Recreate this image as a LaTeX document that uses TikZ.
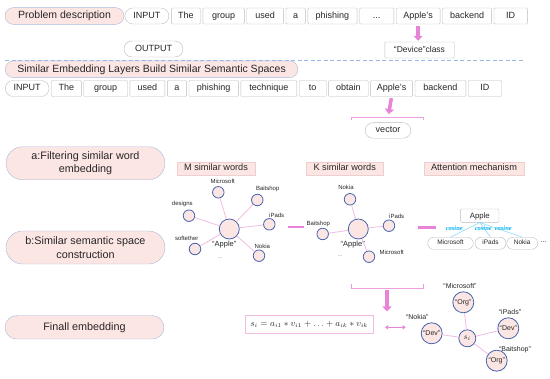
\documentclass[tikz,border=0pt]{standalone}
\usepackage{fontspec}
\setmainfont{Liberation Sans}
\newfontfamily\cosfont{Liberation Serif}
\usepackage{amsmath}
\usetikzlibrary{shapes.misc, arrows.meta, positioning, calc}

\definecolor{pinkfill}{RGB}{252,230,228}
\definecolor{pillblue}{RGB}{168,184,222}
\definecolor{wordgray}{RGB}{188,188,188}
\definecolor{circblue}{RGB}{70,100,172}
\definecolor{edgepink}{RGB}{240,188,226}
\definecolor{arrowpink}{RGB}{232,132,216}
\definecolor{dashblue}{RGB}{150,186,226}
\definecolor{cosblue}{RGB}{0,176,240}
\definecolor{tagpink}{RGB}{238,206,206}

\begin{document}
\begin{tikzpicture}[
    x=1pt, y=-1pt,
    every node/.style={inner sep=0pt, text=black!85},
    descpill/.style={rounded rectangle, draw=pillblue, fill=pinkfill, text height=7.5pt,
                     text depth=2pt, minimum height=16.7pt, font=\fontsize{10.5}{12}\selectfont},
    stagepill/.style={rounded rectangle, draw=pillblue, fill=pinkfill, minimum width=159pt,
                      minimum height=33pt, align=center, font=\fontsize{10.8}{13.3}\selectfont},
    tagpill/.style={rounded rectangle, draw=wordgray, fill=white, text height=6.5pt,
                    text depth=1.8pt, minimum height=16pt, font=\fontsize{9}{10}\selectfont},
    wordbox/.style={rectangle, draw=wordgray, fill=white, rounded corners=1pt, text height=6.5pt,
                    text depth=1.8pt, minimum height=16pt, font=\fontsize{9}{10}\selectfont},
    headbox/.style={rectangle, draw=tagpink, fill=pinkfill, minimum height=13pt,
                    text height=6.6pt, text depth=1.8pt, font=\fontsize{9.2}{10}\selectfont},
    bigword/.style={circle, draw=circblue, line width=0.8pt, fill=pinkfill, minimum size=20pt},
    smallword/.style={circle, draw=circblue, line width=0.8pt, fill=pinkfill, minimum size=11.5pt},
    typenode/.style={circle, draw=circblue, line width=0.8pt, fill=pinkfill, minimum size=21pt,
                     font=\fontsize{7}{8}\selectfont},
    wlabel/.style={font=\fontsize{6}{7}\selectfont},
    tlabel/.style={font=\fontsize{7}{8}\selectfont},
    edge/.style={draw=edgepink, line width=0.8pt},
    blockarrow/.style={draw=arrowpink, line width=3.5pt, -{Triangle[width=9pt,length=5pt]}},
    bar/.style={draw=arrowpink, line width=2.5pt},
    dblarrow/.style={draw=arrowpink, line width=1.2pt,
                     {Triangle[width=4pt,length=3pt]}-{Triangle[width=4pt,length=3pt]}},
    bracket/.style={draw=arrowpink!80, line width=0.7pt},
    cosedge/.style={draw=cosblue!45, line width=0.6pt},
    cosine/.style={font=\cosfont\bfseries\itshape\fontsize{6.5}{7}\selectfont, text=cosblue},
    sepline/.style={draw=dashblue, line width=0.8pt, dash pattern=on 4pt off 2.5pt}
]
\useasboundingbox (0,0) rectangle (550,379);

% problem description row
\node (prob)   [descpill, minimum width=119pt] at (64.5,16) {Problem description};
\node (in1)    [tagpill, minimum width=44pt, right=0.5pt of prob]   {INPUT};
\node (the1)   [wordbox, minimum width=29.2pt, right=2pt of in1]    {The};
\node (grp1)   [wordbox, minimum width=41.4pt, right=2pt of the1]   {group};
\node (used1)  [wordbox, minimum width=36.9pt, right=2pt of grp1]   {used};
\node (a1)     [wordbox, minimum width=19.4pt, right=2pt of used1]  {a};
\node (phish1) [wordbox, minimum width=49.3pt, right=2pt of a1]     {phishing};
\node (dots1)  [wordbox, minimum width=34.3pt, right=2pt of phish1] {...};
\node (ap1)    [wordbox, minimum width=43.9pt, right=2pt of dots1]  {Apple's};
\node (back1)  [wordbox, minimum width=49.1pt, right=2pt of ap1]    {backend};
\node (id1)    [wordbox, minimum width=33.3pt, right=2pt of back1]  {ID};

\node (out) [tagpill, minimum width=59pt] at (153.5,49) {OUTPUT};
\node (dev) [wordbox, minimum width=69.4pt, font=\fontsize{8.5}{9}\selectfont] at (419.5,50)
    {“Device”class};
\draw [blockarrow, shorten <=2pt, shorten >=1pt] (ap1.south) -- (ap1.south |- dev.north);

% separator
\coordinate (sepl) at (5,60);
\coordinate (sepr) at (523,60);

% similar embedding row
\node (simemb) [descpill, minimum width=292.7pt] at (151.6,69.3)
    {Similar Embedding Layers Build Similar Semantic Spaces};
\draw [sepline] (sepl) -- (sepr);
\node (in2)    [tagpill, minimum width=43.8pt] at (27.2,88.5)        {INPUT};
\node (the2)   [wordbox, minimum width=29.8pt, right=2pt of in2]    {The};
\node (grp2)   [wordbox, minimum width=43.8pt, right=2pt of the2]   {group};
\node (used2)  [wordbox, minimum width=35pt,   right=2pt of grp2]   {used};
\node (a2)     [wordbox, minimum width=19.3pt, right=2pt of used2]  {a};
\node (phish2) [wordbox, minimum width=49.4pt, right=2pt of a2]     {phishing};
\node (tech2)  [wordbox, minimum width=56pt,   right=2pt of phish2] {technique};
\node (to2)    [wordbox, minimum width=27pt,   right=2pt of tech2]  {to};
\node (obt2)   [wordbox, minimum width=39.6pt, right=2pt of to2]    {obtain};
\node (ap2)    [wordbox, minimum width=42pt,   right=2pt of obt2]   {Apple's};
\node (back2)  [wordbox, minimum width=50.8pt, right=2pt of ap2]    {backend};
\node (id2)    [wordbox, minimum width=33.3pt, right=2pt of back2]  {ID};

\coordinate (brl)   at (351.5,120.5);
\coordinate (brtop) at (388,117.5);
\coordinate (brr)   at (423.5,120.5);
\draw [bracket] (brl) |- (brtop) -| (brr);
\draw [blockarrow, shorten <=1.5pt, shorten >=3.5pt] (ap2.south) -- (brtop);
\node (vec) [tagpill, minimum width=45.7pt, minimum height=15.6pt] at (388,130.5) {vector};

% stages
\node (filt)  [stagepill] at (85.5,163.3) {a:Filtering similar word\\embedding};
\node (simsp) [stagepill] at (85.5,247.5) {b:Similar semantic space\\construction};
\node (final) [stagepill, minimum height=23.5pt] at (84.5,327.3) {Finall embedding};

\node (mhead) [headbox, minimum width=78pt]   at (216,168.3)   {M similar words};
\node (khead) [headbox, minimum width=77.3pt] at (344.7,168.3) {K similar words};
\node (ahead) [headbox, minimum width=100pt]  at (474,168.3)   {Attention mechanism};

% M similar words
\node (mapple) [bigword]   at (229.3,229)   {};
\node (mms)    [smallword] at (218.3,192.3) {};
\node (mbs)    [smallword] at (257.3,200)   {};
\node (mdes)   [smallword] at (189,215.7)   {};
\node (mip)    [smallword] at (269.3,224.3) {};
\node (msoft)  [smallword] at (195,249)     {};
\node (mnok)   [smallword] at (259,255.7)   {};
\node (mmsl)   [wlabel] at (222.7,181.7) {Microsoft};
\node (mbsl)   [wlabel] at (267.7,189.3) {Baitshop};
\node (mdesl)  [wlabel] at (182.3,203.7) {designs};
\node (mipl)   [wlabel] at (276.7,215)   {iPads};
\node (msoftl) [wlabel] at (186.7,238.7) {softether};
\node (mnokl)  [wlabel] at (262.3,246)   {Nokia};
\node (mapl)   [font=\fontsize{7.5}{8}\selectfont] at (224.3,245) {“Apple”};
\node (mdots)  [wlabel, text=black!50] at (220,258) {...};
\draw [edge] (mapple) -- (mms);
\draw [edge] (mapple) -- (mbs);
\draw [edge] (mapple) -- (mdes);
\draw [edge] (mapple) -- (mip);
\draw [edge] (mapple) -- (msoft);
\draw [edge] (mapple) -- (mnok);

\coordinate (mkl) at (287.5,227);
\coordinate (mkr) at (304,227);
\draw [bar] (mkl) -- (mkr);

% K similar words
\node (kapple) [bigword]   at (358.3,229)   {};
\node (knok)   [smallword] at (350,199.3)   {};
\node (kip)    [smallword] at (389,225.7)   {};
\node (kbs)    [smallword] at (322.7,234)   {};
\node (kms)    [smallword] at (369,256.7)   {};
\node (knokl)  [wlabel] at (346,187.3)   {Nokia};
\node (kipl)   [wlabel] at (396.7,216)   {iPads};
\node (kbsl)   [wlabel] at (318.3,224)   {Baitshop};
\node (kmsl)   [wlabel] at (391.7,252.3) {Microsoft};
\node (kapl)   [font=\fontsize{7.5}{8}\selectfont] at (352.7,245) {“Apple”};
\node (kdots)  [wlabel, text=black!50] at (340,256) {...};
\draw [edge] (kapple) -- (knok);
\draw [edge] (kapple) -- (kip);
\draw [edge] (kapple) -- (kbs);
\draw [edge] (kapple) -- (kms);

\coordinate (kal) at (417.7,227.7);
\coordinate (kar) at (436,227.7);
\draw [bar] (kal) -- (kar);

% attention
\node (aapple) [wordbox, minimum width=38.3pt, minimum height=13.3pt,
                font=\fontsize{7.8}{9}\selectfont] at (479.8,215.7) {Apple};
\node (ams)  [tagpill, minimum width=45.6pt, minimum height=12pt, text height=4.8pt,
              font=\fontsize{6.5}{7}\selectfont] at (450.5,243.3) {Microsoft};
\node (aip)  [tagpill, minimum width=31pt, minimum height=12pt, text height=4.8pt,
              font=\fontsize{6.5}{7}\selectfont] at (490.5,243.3) {iPads};
\node (anok) [tagpill, minimum width=31pt, minimum height=12pt, text height=4.8pt,
              font=\fontsize{6.5}{7}\selectfont] at (522.2,243.3) {Nokia};
\node (adots) [tlabel] at (543.5,242.5) {...};
\draw [cosedge] (aapple.south) -- (ams.north);
\draw [cosedge] (aapple.south) -- (aip.north);
\draw [cosedge] (aapple.south) -- (anok.north);
\node (cos1) [cosine] at (454.3,228.3) {cosine};
\node (cos2) [cosine] at (483.3,228.3) {cosine};
\node (cos3) [cosine] at (503.3,228.3) {cosine};

% final embedding
\coordinate (br2l)   at (351.5,284.5);
\coordinate (br2bot) at (387,288.3);
\coordinate (br2r)   at (423.5,284.5);
\coordinate (ftip)   at (387,311.5);
\draw [bracket] (br2l) |- (br2bot) -| (br2r);
\draw [blockarrow, shorten <=2pt] (br2bot) -- (ftip);

\node (form) [rectangle, draw=edgepink, line width=0.8pt, minimum width=128.3pt,
              minimum height=18.3pt, font=\fontsize{9}{10}\selectfont] at (309.2,324.2)
    {$s_i = a_{i1} * v_{i1} + \ldots + a_{ik} * v_{ik}$};
\coordinate (dal) at (385,327.3);
\coordinate (dar) at (405.7,327.3);
\draw [dblarrow] (dal) -- (dar);

\node (si)   [typenode, minimum size=17pt, font=\fontsize{8}{9}\selectfont] at (467.3,338.3) {$s_i$};
\node (torg) [typenode] at (463.3,302.3) {“Org”};
\node (ldev) [typenode] at (431.7,333.3) {“Dev”};
\node (rdev) [typenode] at (508.3,328.3) {“Dev”};
\node (borg) [typenode] at (496.7,360.7) {“Org”};
\node (torgl) [tlabel] at (460,286)   {“Microsoft”};
\node (ldevl) [tlabel] at (417.3,316.7) {“Nokia”};
\node (rdevl) [tlabel] at (510,311.7) {“iPads”};
\node (borgl) [tlabel] at (515,350)   {“Baitshop”};
\draw [edge] (si) -- (torg);
\draw [edge] (si) -- (ldev);
\draw [edge] (si) -- (rdev);
\draw [edge] (si) -- (borg);
\end{tikzpicture}
\end{document}
